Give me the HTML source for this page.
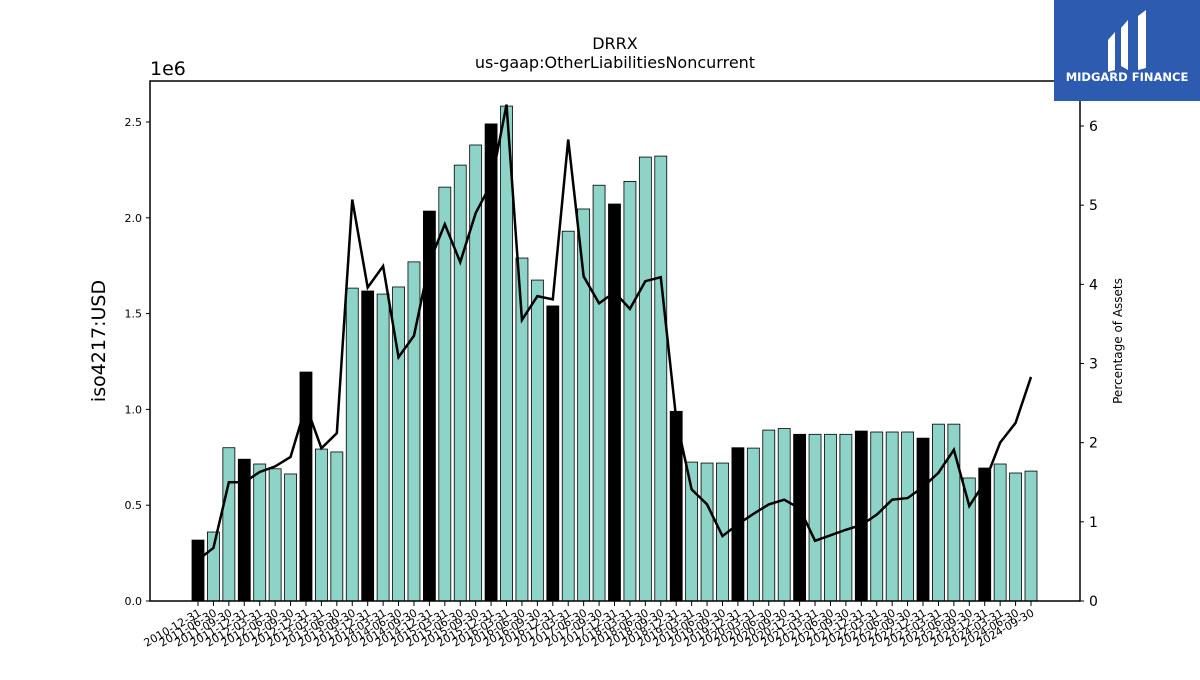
<!DOCTYPE html>
<html><head><meta charset="utf-8"><style>
body{margin:0;background:#fff;font-family:"Liberation Sans","DejaVu Sans",sans-serif}
svg text{font-family:"DejaVu Sans","Liberation Sans",sans-serif}
</style></head><body>
<svg id="c" width="1200" height="675" viewBox="0 0 1200 675">
<text x="615" y="49" font-size="16" text-anchor="middle">DRRX</text>
<text x="615" y="68" font-size="16" text-anchor="middle">us-gaap:OtherLiabilitiesNoncurrent</text>
<text x="150" y="75" font-size="19">1e6</text>
<text transform="translate(105,341) rotate(-90)" font-size="19" text-anchor="middle">iso4217:USD</text>
<text transform="translate(1122,341) rotate(-90)" font-size="12" text-anchor="middle">Percentage of Assets</text>
<g id="bars"></g><g id="line"></g><g id="axes"></g>
<g>
<rect x="1054" y="0" width="146" height="101" fill="#2c5bb0"/>
<path d="M1108 40 L1115 32 L1115 70 L1108 72 Z M1121 28 L1128 20 L1128 70 L1121 66 Z M1138 16 L1146 10 L1146 68 L1138 70 Z" fill="#fff"/>
<text x="1127" y="81" font-size="11.5" font-weight="bold" fill="#fff" text-anchor="middle">MIDGARD FINANCE</text>
</g>
</svg>
<script>
const dates=["2010-12-31","2011-06-30","2011-09-30","2011-12-31","2012-03-31","2012-06-30","2012-09-30","2012-12-31","2013-03-31","2013-06-30","2013-09-30","2013-12-31","2014-03-31","2014-06-30","2014-09-30","2014-12-31","2015-03-31","2015-06-30","2015-09-30","2015-12-31","2016-03-31","2016-06-30","2016-09-30","2016-12-31","2017-03-31","2017-06-30","2017-09-30","2017-12-31","2018-03-31","2018-06-30","2018-09-30","2018-12-31","2019-03-31","2019-06-30","2019-09-30","2019-12-31","2020-03-31","2020-06-30","2020-09-30","2020-12-31","2021-03-31","2021-06-30","2021-09-30","2021-12-31","2022-03-31","2022-06-30","2022-09-30","2022-12-31","2023-03-31","2023-06-30","2023-09-30","2023-12-31","2024-03-31","2024-06-30","2024-09-30"];
const values=[0.318,0.36,0.80,0.74,0.715,0.69,0.663,1.195,0.793,0.778,1.633,1.618,1.602,1.639,1.77,2.035,2.16,2.275,2.38,2.49,2.583,1.79,1.675,1.54,1.93,2.046,2.17,2.072,2.19,2.317,2.322,0.99,0.725,0.72,0.72,0.80,0.798,0.892,0.90,0.87,0.87,0.87,0.87,0.887,0.882,0.882,0.882,0.85,0.923,0.923,0.642,0.694,0.715,0.668,0.678];
const pct=[0.52,0.67,1.50,1.50,1.63,1.70,1.82,2.47,1.93,2.12,5.07,3.96,4.23,3.08,3.35,4.28,4.76,4.28,4.90,5.27,6.27,3.55,3.85,3.81,5.83,4.10,3.76,3.90,3.69,4.04,4.09,2.30,1.41,1.22,0.82,0.97,1.10,1.22,1.28,1.17,0.76,0.83,0.90,0.96,1.09,1.28,1.30,1.44,1.62,1.91,1.20,1.50,2.00,2.25,2.83];
const leftTicks=[0,0.5,1.0,1.5,2.0,2.5];
const rightTicks=[0,1,2,3,4,5,6];
const NS="http://www.w3.org/2000/svg";
const L=150,R=1080,T=81,B=601;
const x=i=>198+i*(1031-198)/(dates.length-1);
const yL=v=>B-v*(B-122)/2.5;
const yR=v=>B-v*(B-126)/6;
function mk(tag,a,p){const e=document.createElementNS(NS,tag);for(const k in a)e.setAttribute(k,a[k]);p.appendChild(e);return e;}
const gb=document.getElementById('bars'),gl=document.getElementById('line'),ga=document.getElementById('axes');
values.forEach((v,i)=>{const q4=dates[i].endsWith("12-31");
const r=mk('rect',{x:x(i)-6,y:yL(v),width:12,height:B-yL(v),fill:q4?'#000':'#8dd3c7',stroke:'#000','stroke-width':0.8},gb);

});
const pl=mk('polyline',{points:pct.map((v,i)=>x(i)+','+yR(v)).join(' '),fill:'none',stroke:'#000','stroke-width':2.5},gl);


const fr=mk('rect',{x:L,y:T,width:R-L,height:B-T,fill:'none',stroke:'#000','stroke-width':1.5},ga);


leftTicks.forEach(t=>{mk('line',{x1:L-4,x2:L,y1:yL(t),y2:yL(t),stroke:'#000'},ga);
const tx=mk('text',{x:L-8,y:yL(t)+4,'font-size':11,'text-anchor':'end'},ga);tx.textContent=t.toFixed(1);

});
rightTicks.forEach(t=>{mk('line',{x1:R,x2:R+4,y1:yR(t),y2:yR(t),stroke:'#000'},ga);
const tx=mk('text',{x:R+9,y:yR(t)+5,'font-size':14},ga);tx.textContent=t;

});
dates.forEach((d,i)=>{mk('line',{x1:x(i),x2:x(i),y1:B,y2:B+5,stroke:'#000'},ga);
const tx=mk('text',{transform:`translate(${x(i)+4},${B+14}) rotate(-30)`,'font-size':11,'text-anchor':'end'},ga);tx.textContent=d;

});
</script>
</body></html>
